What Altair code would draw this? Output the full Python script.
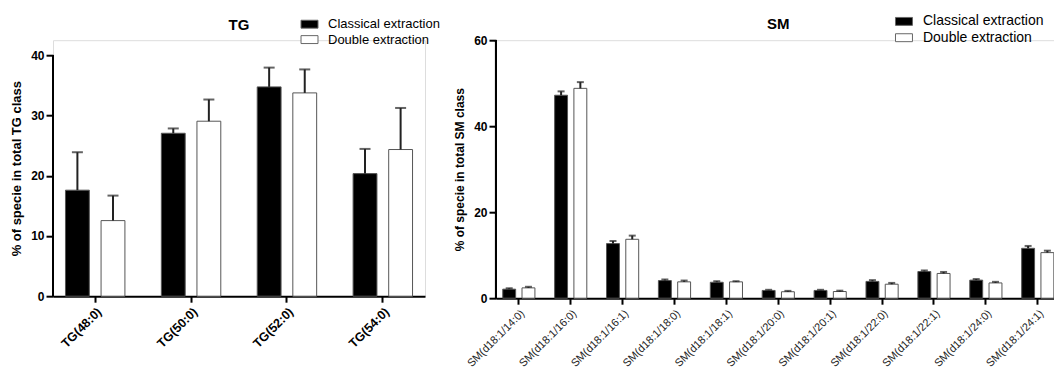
import altair as alt
import pandas as pd

GROUPS = ["Classical extraction", "Double extraction"]

TG_CATS = ["TG(48:0)", "TG(50:0)", "TG(52:0)", "TG(54:0)"]
TG_CLASSICAL = [17.6, 27.05, 34.75, 20.35]
TG_CLASSICAL_ERR = [6.3, 0.8, 3.2, 4.1]
TG_DOUBLE = [12.55, 29.05, 33.75, 24.35]
TG_DOUBLE_ERR = [4.15, 3.6, 3.9, 6.9]
TG_TICKS = [0, 10, 20, 30, 40]

SM_CATS = ["SM(d18:1/14:0)", "SM(d18:1/16:0)", "SM(d18:1/16:1)", "SM(d18:1/18:0)",
           "SM(d18:1/18:1)", "SM(d18:1/20:0)", "SM(d18:1/20:1)", "SM(d18:1/22:0)",
           "SM(d18:1/22:1)", "SM(d18:1/24:0)", "SM(d18:1/24:1)"]
SM_CLASSICAL = [2.1, 47.2, 12.7, 4.1, 3.7, 1.8, 1.8, 3.9, 6.2, 4.2, 11.6]
SM_CLASSICAL_ERR = [0.2, 0.9, 0.6, 0.25, 0.25, 0.15, 0.15, 0.3, 0.25, 0.25, 0.55]
SM_DOUBLE = [2.4, 48.8, 13.7, 3.8, 3.8, 1.5, 1.55, 3.25, 5.75, 3.55, 10.6]
SM_DOUBLE_ERR = [0.25, 1.45, 0.85, 0.3, 0.15, 0.2, 0.2, 0.3, 0.35, 0.25, 0.45]
SM_TICKS = [0, 20, 40, 60]

FONT = "Arial"
RECT = "M-1.5,-0.7H1.5V0.7H-1.5Z"


def make_df(cats, cv, ce, dv, de):
    rows = []
    for i, c in enumerate(cats):
        rows.append({"cat": c, "grp": GROUPS[0], "val": cv[i], "upper": cv[i] + ce[i]})
        rows.append({"cat": c, "grp": GROUPS[1], "val": dv[i], "upper": dv[i] + de[i]})
    return pd.DataFrame(rows)


def panel(df, cats, title, title_offset, ytitle, ticks, ymax, axis_top, width, height, cap,
          xlab_bold, xlab_size, ytitle_size, legend_x, legend_y, legend_size, legend_rowpad):
    xenc = alt.X("cat:N", sort=cats,
                 scale=alt.Scale(paddingInner=0.38, paddingOuter=0.13),
                 axis=alt.Axis(title=None, labelAngle=-45, labelAlign="right",
                               labelBaseline="top", labelFont=FONT,
                               labelFontSize=xlab_size,
                               labelFontWeight="bold" if xlab_bold else "normal",
                               labelColor="#000" if xlab_bold else "#222",
                               domainColor="#000", domainWidth=2,
                               tickColor="#000", tickWidth=2, tickSize=6,
                               labelPadding=3, labelOverlap=False))
    xoff = alt.XOffset("grp:N", sort=GROUPS,
                       scale=alt.Scale(paddingInner=0.33, paddingOuter=0))
    yscale = alt.Scale(domain=[0, ymax], nice=False, zero=True)
    yaxis = alt.Axis(values=ticks, grid=False, domain=False,
                     labelFont=FONT, labelFontSize=12, labelFontWeight="bold",
                     labelColor="#000", tickColor="#000", tickWidth=2, tickSize=7,
                     labelPadding=2, titleFont=FONT, titleFontSize=ytitle_size,
                     titleFontWeight="bold", titleColor="#000", titlePadding=7)
    base = alt.Chart(df).encode(x=xenc, xOffset=xoff)

    bars = base.mark_bar(stroke="#555", strokeWidth=1).encode(
        y=alt.Y("val:Q", scale=yscale, title=ytitle, axis=yaxis),
        color=alt.Color("grp:N", sort=GROUPS,
                        scale=alt.Scale(domain=GROUPS, range=["#000000", "#ffffff"]),
                        legend=alt.Legend(title=None, orient="none", legendX=legend_x,
                                          legendY=legend_y, symbolType=RECT, symbolSize=128,
                                          symbolStrokeColor="#666", symbolStrokeWidth=1,
                                          labelFont=FONT, labelFontSize=legend_size,
                                          labelColor="#000", labelOffset=12,
                                          rowPadding=legend_rowpad)),
    )
    rule = base.mark_rule(color="#222", strokeWidth=2).encode(
        y=alt.Y("val:Q", scale=yscale, title=ytitle, axis=yaxis),
        y2=alt.Y2("upper:Q", title=ytitle))
    capm = base.mark_tick(color="#222", thickness=2, size=cap).encode(
        y=alt.Y("upper:Q", scale=yscale, title=ytitle, axis=yaxis))
    yaxis_line = alt.Chart(df).mark_rule(color="#000", strokeWidth=2).encode(
        x=alt.value(0), y=alt.datum(0, scale=yscale, title=ytitle, axis=yaxis),
        y2=alt.datum(axis_top))
    return alt.layer(bars, rule, capm, yaxis_line).properties(
        width=width, height=height,
        title=alt.TitleParams(title, font=FONT, fontSize=15, fontWeight="bold",
                              color="#000", anchor="middle", offset=title_offset))


tg = panel(make_df(TG_CATS, TG_CLASSICAL, TG_CLASSICAL_ERR, TG_DOUBLE, TG_DOUBLE_ERR),
           TG_CATS, "TG", -15, "% of specie in total TG class", TG_TICKS, 42.5, 40,
           372, 256, 11, True, 12.5, 13, 250, -22.5, 13, 1.4)
sm = panel(make_df(SM_CATS, SM_CLASSICAL, SM_CLASSICAL_ERR, SM_DOUBLE, SM_DOUBLE_ERR),
           SM_CATS, "SM", -17.5, "% of specie in total SM class", SM_TICKS, 60, 60,
           564.6, 258, 7, False, 11, 12, 401, -25.8, 14, 2.3)

chart = alt.hconcat(tg, sm, spacing=71, bounds="flush").resolve_scale(
    color="independent", x="independent", y="independent", xOffset="independent"
).resolve_legend(color="independent").properties(
    padding={"left": 2, "top": 5.2, "right": -7.6, "bottom": 0}
).configure_view(stroke=None).configure(font=FONT)

chart.save("out.html", embed_options={"renderer": "svg", "actions": False})
